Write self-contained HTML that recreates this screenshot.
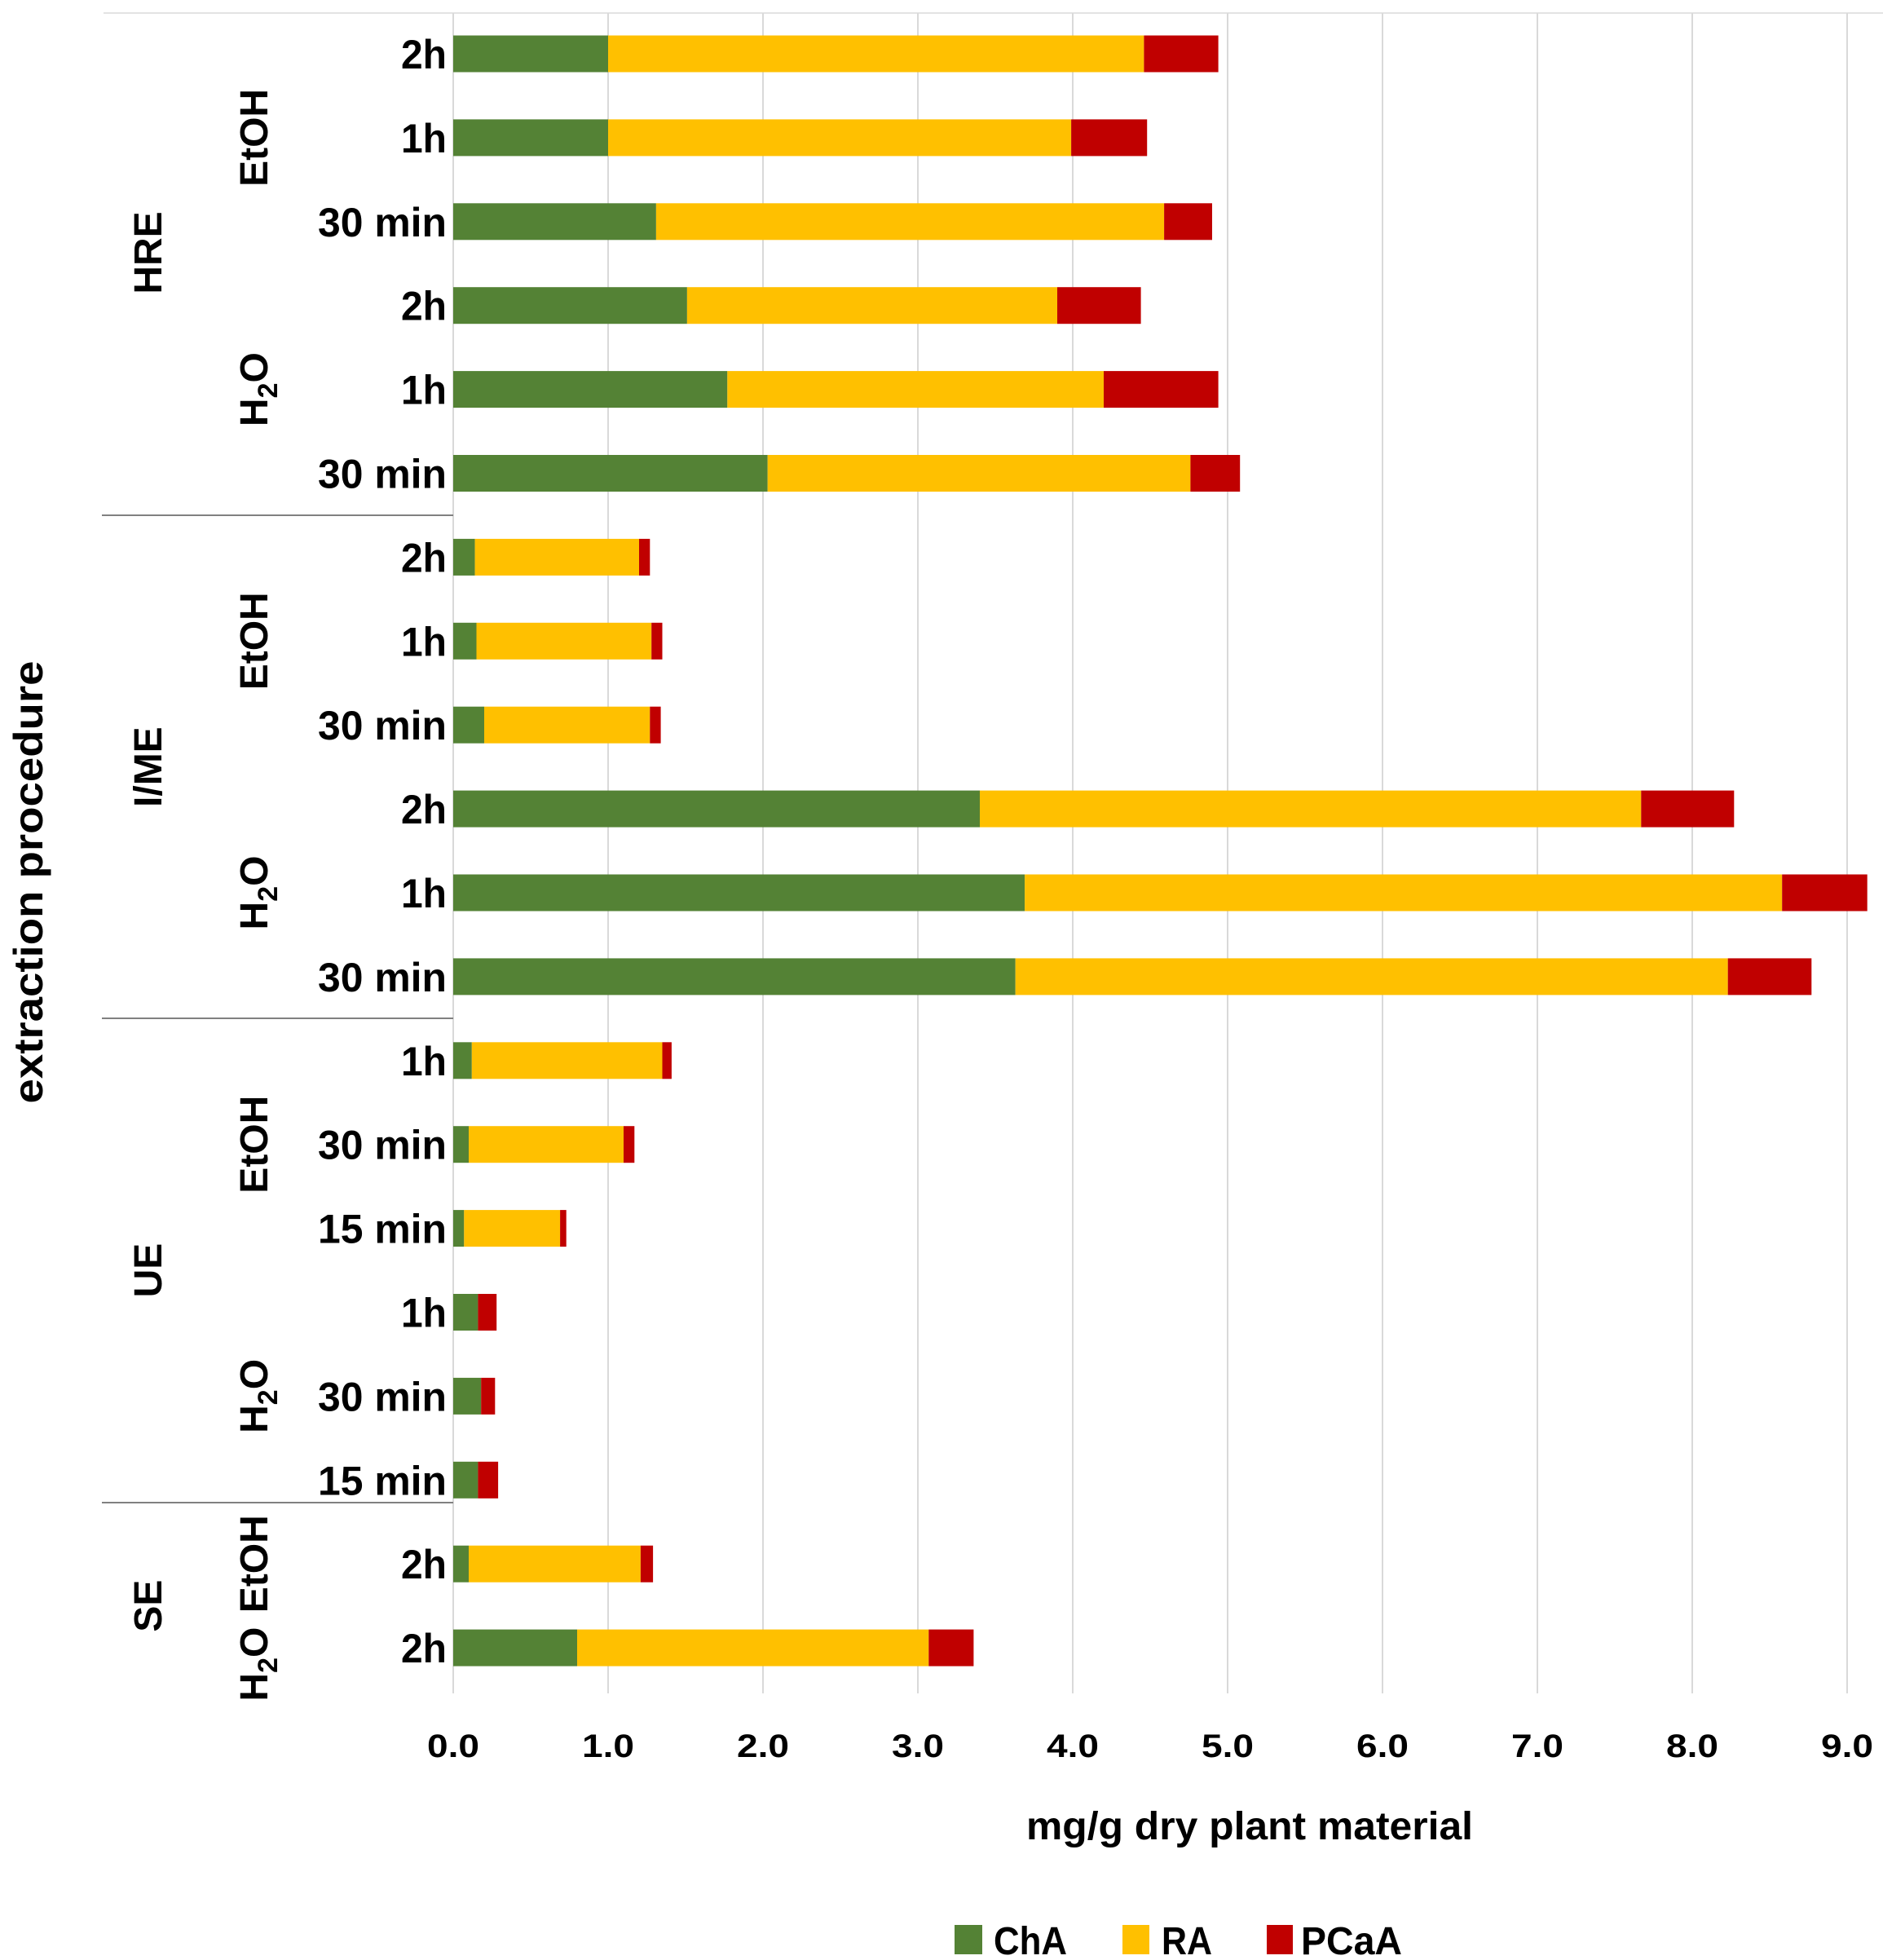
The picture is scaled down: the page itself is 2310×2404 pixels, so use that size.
<!DOCTYPE html>
<html><head><meta charset="utf-8"><style>
html,body{margin:0;padding:0;background:#fff;}
svg{display:block;font-family:"Liberation Sans",sans-serif;font-weight:bold;}
</style></head><body>
<svg id="chart" width="2310" height="2404" viewBox="0 0 2310 2404" xmlns="http://www.w3.org/2000/svg">
<g id="grid"></g>
<g id="bars"></g>
<g id="labels"></g>
<g id="ticks"></g>
<text x="1533" y="2256" font-size="48" text-anchor="middle" textLength="548" lengthAdjust="spacingAndGlyphs">mg/g dry plant material</text>
<text transform="translate(52,1082) rotate(-90)" font-size="50" text-anchor="middle" textLength="543" lengthAdjust="spacingAndGlyphs">extraction procedure</text>
<g>
<rect x="1171" y="2361" width="34" height="36" fill="#548235"/>
<text x="1219" y="2397" font-size="48" textLength="90" lengthAdjust="spacingAndGlyphs">ChA</text>
<rect x="1377" y="2361" width="33" height="36" fill="#FFC000"/>
<text x="1425" y="2397" font-size="48" textLength="62" lengthAdjust="spacingAndGlyphs">RA</text>
<rect x="1554" y="2361" width="32" height="36" fill="#C00000"/>
<text x="1596" y="2397" font-size="48" textLength="124" lengthAdjust="spacingAndGlyphs">PCaA</text>
</g>
</svg>
<script>
const categories = ["2h","1h","30 min","2h","1h","30 min","2h","1h","30 min","2h","1h","30 min","1h","30 min","15 min","1h","30 min","15 min","2h","2h"];
const chaValues  = [1.00,1.00,1.31,1.51,1.77,2.03,0.14,0.15,0.20,3.40,3.69,3.63,0.12,0.10,0.07,0.16,0.18,0.16,0.10,0.80];
const raValues   = [3.46,2.99,3.28,2.39,2.43,2.73,1.06,1.13,1.07,4.27,4.89,4.60,1.23,1.00,0.62,0.00,0.00,0.00,1.11,2.27];
const pcaaValues = [0.48,0.49,0.31,0.54,0.74,0.32,0.07,0.07,0.07,0.60,0.55,0.54,0.06,0.07,0.04,0.12,0.09,0.13,0.08,0.29];
const tickLabels = ["0.0","1.0","2.0","3.0","4.0","5.0","6.0","7.0","8.0","9.0"];
const tickValues = [0,1,2,3,4,5,6,7,8,9];
const solventGroups = [["EtOH",0,2],["H2O",3,5],["EtOH",6,8],["H2O",9,11],["EtOH",12,14],["H2O",15,17],["EtOH",18,18],["H2O",19,19]];
const methodGroups = [["HRE",0,5],["I/ME",6,11],["UE",12,17],["SE",18,19]];

const NS="http://www.w3.org/2000/svg";
const X0=556, UNIT=190, Y0=66, STEP=102.9, BH=45;
function xs(v){return X0+v*UNIT;}
function yc(i){return Y0+i*STEP;}
function mk(tag,attrs,parent){const e=document.createElementNS(NS,tag);for(const k in attrs)e.setAttribute(k,attrs[k]);parent.appendChild(e);return e;}
const grid=document.getElementById('grid'),bars=document.getElementById('bars'),labels=document.getElementById('labels'),ticks=document.getElementById('ticks');

let tl=mk('line',{x1:127,x2:2310,y1:16,y2:16,stroke:'#e3e3e3','stroke-width':2},grid);


tickValues.forEach((v,i)=>{
  const l=mk('line',{x1:xs(v),x2:xs(v),y1:16,y2:2077,stroke:'#d9d9d9','stroke-width':2},grid);
  
  
  const t=mk('text',{x:xs(v),y:2155,'font-size':40,'text-anchor':'middle',textLength:64,lengthAdjust:'spacingAndGlyphs'},ticks);
  t.textContent=tickLabels[i];
  
  
});
[632,1249,1843].forEach(y=>{
  const l=mk('line',{x1:125,x2:556,y1:y,y2:y,stroke:'#808080','stroke-width':2},grid);
  
  
});
categories.forEach((c,i)=>{
  const y=yc(i)-BH/2;
  const segs=[[0,chaValues[i],'#548235','cha'],[chaValues[i],chaValues[i]+raValues[i],'#FFC000','ra'],[chaValues[i]+raValues[i],chaValues[i]+raValues[i]+pcaaValues[i],'#C00000','pcaa']];
  segs.forEach(s=>{
    if(s[1]-s[0]<=0)return;
    const r=mk('rect',{x:xs(s[0]),y:y,width:xs(s[1])-xs(s[0]),height:BH,fill:s[2]},bars);
    
    
  });
  const w=c.length>3?158:(c.length>2?60:58);
  const t=mk('text',{x:548,y:yc(i)+18,'font-size':50,'text-anchor':'end',textLength:c.length>3?158:56,lengthAdjust:'spacingAndGlyphs'},labels);
  t.textContent=c;
  
  
});
solventGroups.forEach(g=>{
  const cy=(yc(g[1])+yc(g[2]))/2;
  const t=mk('text',{transform:'translate(328,'+(cy+(g[0]==='H2O'&&g[1]===19?20:0))+') rotate(-90)','font-size':48,'text-anchor':'middle'},labels);
  if(g[0]==='H2O'){
    t.appendChild(document.createTextNode('H'));
    const s=mk('tspan',{'font-size':34,dy:12},t);s.textContent='2';
    
    
    const o=mk('tspan',{dy:-12},t);o.textContent='O';
    
    
  } else t.textContent=g[0];
  
  
});
methodGroups.forEach(g=>{
  let cy=(yc(g[1])+yc(g[2]))/2;
  if(g[0]==='HRE')cy=310;
  const t=mk('text',{transform:'translate(198,'+cy+') rotate(-90)','font-size':48,'text-anchor':'middle'},labels);
  t.textContent=g[0];
  
  
});
</script>
</body></html>
